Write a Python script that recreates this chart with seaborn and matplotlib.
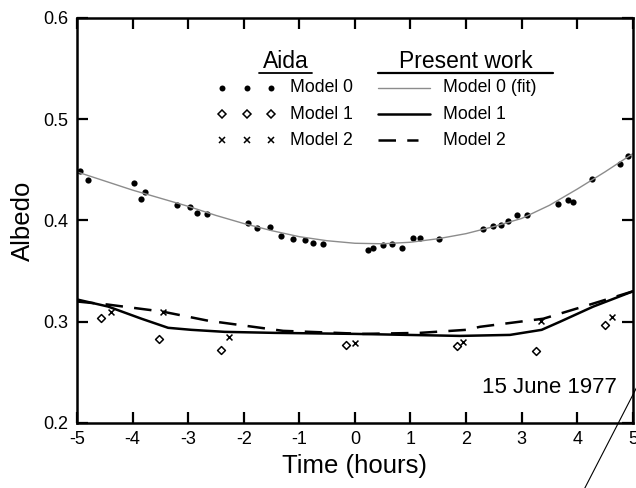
import matplotlib
matplotlib.use("Agg")
import matplotlib.pyplot as plt
import pandas as pd
import seaborn as sns
from matplotlib.lines import Line2D

# Aida data points
m0_x = [-4.95, -4.81, -3.98, -3.84, -3.78, -3.20, -2.97, -2.84, -2.66, -1.93, -1.76, -1.53,
        -1.33, -1.11, -0.90, -0.76, -0.57, 0.24, 0.32, 0.51, 0.67, 0.84, 1.05, 1.18, 1.51,
        2.30, 2.49, 2.62, 2.76, 2.91, 3.09, 3.65, 3.84, 3.93, 4.27, 4.77, 4.92]
m0_y = [0.449, 0.440, 0.437, 0.421, 0.428, 0.415, 0.413, 0.407, 0.406, 0.398, 0.393, 0.394,
        0.385, 0.382, 0.381, 0.378, 0.377, 0.371, 0.373, 0.376, 0.377, 0.373, 0.383, 0.383, 0.382,
        0.392, 0.395, 0.396, 0.399, 0.405, 0.405, 0.416, 0.420, 0.418, 0.441, 0.456, 0.464]

m1_x = [-4.57, -3.53, -2.41, -0.16, 1.83, 3.26, 4.50]
m1_y = [0.304, 0.283, 0.272, 0.277, 0.276, 0.271, 0.297]

m2_x = [-4.39, -3.46, -2.27, 0.00, 1.95, 3.34, 4.62]
m2_y = [0.310, 0.310, 0.285, 0.279, 0.280, 0.301, 0.305]

# Present work curves
fit_x = [-5, -4.5, -4, -3.5, -3, -2.5, -2, -1.5, -1, -0.5, 0, 0.5, 1, 1.5, 2, 2.5, 3, 3.5, 4, 4.5, 5]
fit_y = [0.448, 0.439, 0.430, 0.422, 0.414, 0.405, 0.397, 0.390, 0.384, 0.380, 0.3775, 0.377,
         0.3785, 0.382, 0.387, 0.394, 0.402, 0.415, 0.431, 0.448, 0.466]

mod1_x = [-5, -4.44, -3.84, -3.36, -2.94, -2.34, -1.44, 0.0, 1.89, 2.79, 3.36, 3.69, 4.29, 5.0]
mod1_y = [0.322, 0.315, 0.303, 0.294, 0.292, 0.290, 0.289, 0.288, 0.286, 0.287, 0.292, 0.300, 0.315, 0.330]

mod2_x = [-5, -4.45, -3.46, -2.64, -1.56, -1.29, 0.15, 1.17, 2.0, 2.25, 3.39, 4.29, 5.0]
mod2_y = [0.320, 0.317, 0.310, 0.301, 0.293, 0.291, 0.288, 0.289, 0.292, 0.295, 0.303, 0.318, 0.330]

sns.set_style("ticks")
plt.rcParams['font.family'] = ['Liberation Sans', 'DejaVu Sans']
plt.rcParams['axes.unicode_minus'] = False
for k in ['text.color', 'axes.labelcolor', 'xtick.color', 'ytick.color', 'axes.edgecolor']:
    plt.rcParams[k] = 'black'

fig = plt.figure(figsize=(6.36, 4.88), dpi=100)
ax = fig.add_axes([0.121, 0.1332, 0.874, 0.830])

dash = (0, (7, 4.5))
sns.lineplot(x=fit_x, y=fit_y, ax=ax, color="#8c8c8c", linewidth=1.0, sort=False)
sns.lineplot(x=mod1_x, y=mod1_y, ax=ax, color="black", linewidth=1.8, sort=False)
sns.lineplot(x=mod2_x, y=mod2_y, ax=ax, color="black", linewidth=1.8, sort=False,
             dashes=False, linestyle=dash)

sns.scatterplot(x=m0_x, y=m0_y, ax=ax, color="black", s=20, marker="o", edgecolor="black", linewidth=0)
sns.scatterplot(x=m1_x, y=m1_y, ax=ax, marker="D", s=16, facecolor="white", edgecolor="black", linewidth=1.1)
sns.scatterplot(x=m2_x, y=m2_y, ax=ax, marker="x", s=18, color="black", linewidth=1.1)

ax.set_xlim(-5, 5)
ax.set_ylim(0.2, 0.6)
ax.set_xticks(range(-5, 6))
ax.set_yticks([0.2, 0.3, 0.4, 0.5, 0.6])
ax.set_yticklabels(["0.2", "0.3", "0.4", "0.5", "0.6"])
ax.tick_params(direction="in", length=8, width=1.6, top=True, right=True,
               labelsize=13, pad=6)
for s in ax.spines.values():
    s.set_linewidth(1.8)
    s.set_visible(True)

ax.set_xlabel("Time (hours)", fontsize=18.5, labelpad=4)
ax.set_ylabel("Albedo", fontsize=18.5, labelpad=6)

ax.text(4.71, 0.235, "15 June 1977", fontsize=16, ha="right", va="center")

# legend drawn by hand (two column headers with underlines)
def px(x, y):
    return ((x - 77) / 556, (423 - y) / 405)

tr = ax.transAxes
ax.text(*px(286, 62), "Aida", transform=tr, fontsize=16.5, ha="center", va="center")
ax.add_line(Line2D(*zip(px(259, 73), px(312, 73)), transform=tr, color="black", lw=1.3))
ax.text(*px(466, 62), "Present work", transform=tr, fontsize=16.5, ha="center", va="center")
ax.add_line(Line2D(*zip(px(378, 73), px(553, 73)), transform=tr, color="black", lw=1.6))

rows = [88, 114.5, 140.5]
marks = [dict(marker="o", ms=4.3, mfc="black", mec="black", mew=0),
         dict(marker="D", ms=4, mfc="white", mec="black", mew=1.1),
         dict(marker="x", ms=4.5, mfc="black", mec="black", mew=1.1)]
left_labels = ["Model 0", "Model 1", "Model 2"]
right_labels = ["Model 0 (fit)", "Model 1", "Model 2"]
right_styles = [dict(color="#8c8c8c", lw=1.0, ls="-"),
                dict(color="black", lw=1.8, ls="-"),
                dict(color="black", lw=1.8, ls=dash)]
for r, mk, ll, rl, st in zip(rows, marks, left_labels, right_labels, right_styles):
    for xm in [222, 247, 271]:
        ax.add_line(Line2D([px(xm, r)[0]], [px(xm, r)[1]], transform=tr, ls="none", **mk))
    ax.text(*px(290, r), ll, transform=tr, fontsize=12.7, ha="left", va="center")
    xe = 430 if st["ls"] == "-" else 418
    ax.add_line(Line2D(*zip(px(378, r), px(xe, r)), transform=tr, **st))
    ax.text(*px(443, r), rl, transform=tr, fontsize=12.7, ha="left", va="center")

# stray diagonal line in the original scan
fig.add_artist(Line2D([1.003, 0.918], [0.211, -0.004], transform=fig.transFigure,
                      color="black", lw=0.8))

fig.savefig("out.png", dpi=100)
